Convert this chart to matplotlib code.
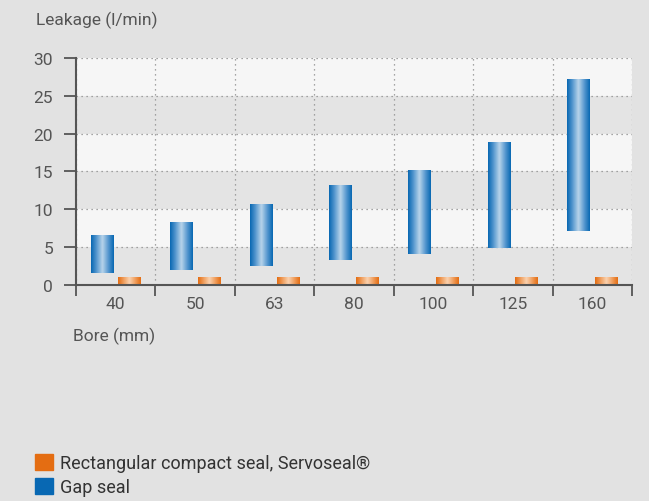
import numpy as np
import matplotlib.pyplot as plt
from matplotlib.colors import LinearSegmentedColormap
from matplotlib.patches import Patch

plt.rcParams['font.family'] = ['Roboto', 'DejaVu Sans']

bores = ['40', '50', '63', '80', '100', '125', '160']
gap_low = [1.6, 2.0, 2.5, 3.3, 4.0, 4.8, 7.1]
gap_high = [6.6, 8.3, 10.6, 13.2, 15.1, 18.8, 27.1]
servo_low = [0, 0, 0, 0, 0, 0, 0]
servo_high = [1.0, 1.0, 1.0, 1.0, 1.0, 1.0, 1.0]
series_labels = ['Rectangular compact seal, Servoseal®', 'Gap seal']

txt = '#555555'
blue_cm = LinearSegmentedColormap.from_list('b', ['#0868b3', '#5a9ad0', '#b8d4ea', '#5a9ad0', '#0868b3'])
orange_cm = LinearSegmentedColormap.from_list('o', ['#e46d12', '#f0a060', '#fad2b0', '#f0a060', '#e46d12'])

fig = plt.figure(figsize=(6.49, 5.02), dpi=100, facecolor='#e2e2e2')
ax = fig.add_axes([0.1171, 0.4309, 0.8567, 0.4516])
ax.set_facecolor('#e4e4e4')

# alternating bands
for i, y in enumerate(range(0, 30, 5)):
    ax.axhspan(y, y + 5, color='#e4e4e4' if i % 2 == 0 else '#f6f6f6', zorder=0, lw=0)

x = np.arange(len(bores)) + 0.5
w = 0.28
gap = ax.bar(x - 0.174, np.subtract(gap_high, gap_low), bottom=gap_low, width=w, color='none')
servo = ax.bar(x + 0.17, np.subtract(servo_high, servo_low), bottom=servo_low, width=w, color='none')

grad = np.linspace(0, 1, 64).reshape(1, -1)
for bars, cm in ((gap, blue_cm), (servo, orange_cm)):
    for p in bars:
        x0, y0 = p.get_x(), p.get_y()
        ax.imshow(grad, cmap=cm, extent=(x0, x0 + p.get_width(), y0, y0 + p.get_height()),
                  aspect='auto', zorder=3, interpolation='bilinear')

ax.set_xlim(0, len(bores))
ax.set_ylim(0, 30)

ax.set_xticks(np.arange(len(bores) + 1))
ax.set_xticklabels([])
ax.set_xticks(x, minor=True)
ax.set_xticklabels(bores, minor=True)
ax.set_yticks(range(0, 31, 5))
ax.tick_params(axis='x', which='major', length=8, width=1.3, color='#555555', direction='out')
ax.tick_params(axis='x', which='minor', length=0, pad=8, labelsize=12.5, labelcolor=txt)
ax.tick_params(axis='y', length=8.6, width=1.3, color='#555555', pad=8, labelsize=12.5, labelcolor=txt)

ax.grid(True, which='major', color='#8a8a8a', linestyle=(0, (1, 3)), linewidth=0.9, zorder=1)
ax.set_axisbelow(True)
for s in ['top', 'right']:
    ax.spines[s].set_visible(False)
for s in ['left', 'bottom']:
    ax.spines[s].set_color('#555555')
    ax.spines[s].set_linewidth(1.5)
    ax.spines[s].set_zorder(4)

fig.text(36 / 649, 1 - 20 / 502, 'Leakage (l/min)', fontsize=12.5, color=txt, va='center', ha='left')
fig.text(73 / 649, 1 - 336 / 502, 'Bore (mm)', fontsize=12.5, color=txt, va='center', ha='left')

handles = [Patch(color='#e46d12'), Patch(color='#0868b3')]
fig.legend(handles, series_labels, loc='lower left', bbox_to_anchor=(35 / 649, 5 / 502),
           frameon=False, fontsize=13, borderpad=0, borderaxespad=0, handlelength=1.0,
           handleheight=1.0, handletextpad=0.4, labelspacing=0.32, labelcolor='#333333')

fig.savefig('out.png', dpi=100, facecolor=fig.get_facecolor())
